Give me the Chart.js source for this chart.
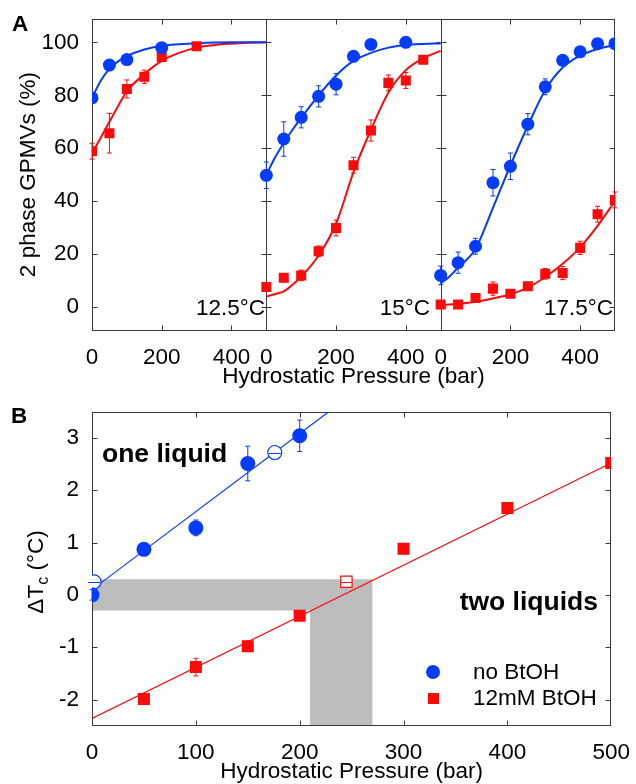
<!DOCTYPE html>
<html><head><meta charset="utf-8">
<script src="https://cdn.jsdelivr.net/npm/chart.js@4.4.0/dist/chart.umd.min.js"></script>
<style>
html,body{margin:0;padding:0;background:#fff;}
#wrap{position:relative;width:636px;height:784px;font-family:"Liberation Sans",Arial,sans-serif;color:#000;overflow:hidden;}
canvas{position:absolute;left:0;}
#cA{top:0}
#cB{top:382px}
.lbl{position:absolute;font-size:22.5px;line-height:22px;white-space:nowrap;}
.bold{font-weight:bold;}
.big{font-size:26.5px;line-height:26px;}
#ytB{position:absolute;left:-34.5px;top:559px;width:140px;height:26px;line-height:26px;font-size:22.5px;text-align:center;transform:rotate(-90deg);white-space:nowrap;}
#ytB sub{font-size:16px;vertical-align:-5px;line-height:0;}
.mk{position:absolute;}
</style></head>
<body><div id="wrap">
<canvas id="cA" width="636" height="392"></canvas>
<canvas id="cB" width="636" height="402"></canvas>
<div class="lbl bold" style="left:12px;top:13px">A</div>
<div class="lbl bold" style="left:11px;top:405px">B</div>
<div class="lbl" style="right:371px;top:297px">12.5°C</div>
<div class="lbl" style="right:206px;top:297px">15°C</div>
<div class="lbl" style="right:23px;top:297px">17.5°C</div>
<div id="ytB">ΔT<sub>c</sub> (°C)</div>
<div class="lbl bold big" style="left:102px;top:440px">one liquid</div>
<div class="lbl bold big" style="right:38px;top:588px">two liquids</div>
<div class="mk" style="left:426px;top:665px;width:14px;height:14px;border-radius:50%;background:rgb(5,60,250)"></div>
<div class="mk" style="left:428px;top:693px;width:11px;height:11px;background:rgb(250,10,10)"></div>
<div class="lbl" style="left:473px;top:661px">no BtOH</div>
<div class="lbl" style="left:473px;top:687px">12mM BtOH</div>
</div>
<script>
// ---------- Panel A data ----------
const panelTemps = ['12.5°C', '15°C', '17.5°C'];
const panelSpan = 500;
const xTicksA = [0, 200, 400];
const yTicksA = [0, 20, 40, 60, 80, 100];

// fitted-curve sample pressures (bar) and curve values
const curveP = [0, 25, 50, 75, 100, 150, 200, 250, 300, 350, 400, 450, 500];
const blueCurve125 = [79, 85.5, 90, 92.8, 94.8, 97.3, 98.7, 99.3, 99.7, 99.9, 100, 100, 100];
const redCurve125  = [58, 64, 70, 76, 81.5, 88, 93, 96, 98, 99, 99.5, 99.8, 100];
const blueCurve15  = [50, 56.5, 62, 67, 71.5, 80, 87.5, 93, 96, 98, 99, 99.4, 99.6];
const redCurve15   = [4, 5, 6, 8.5, 11.5, 19.5, 31.5, 51, 67, 81, 89.5, 94, 96.8];
const blueCurve175 = [9, 11.5, 15, 18, 22, 37.5, 53.5, 68.5, 82, 90.5, 95, 97.5, 99];
const redCurve175  = [0.7, 1, 1.3, 1.6, 2, 3.3, 4.9, 7.4, 11.4, 16.4, 22.6, 30.7, 40.1];

// measured points
const blueP125 = [0, 50, 100, 200];
const blueV125 = [79, 91.4, 93.5, 98];
const blueE125 = [0, 0, 0, 0];
const redP125 = [0, 50, 100, 150, 200, 300];
const redV125 = [58.9, 65.7, 82.4, 87, 94.5, 98.5];
const redE125 = [3, 7.5, 3.4, 2.5, 1, 0];

const blueP15 = [0, 50, 100, 150, 200, 250, 300, 400];
const blueV15 = [49.8, 63.5, 71.7, 79.6, 84.2, 94.7, 99.2, 100];
const blueE15 = [5, 6.5, 4, 4, 4, 0, 0, 0];
const redP15 = [0, 50, 100, 150, 200, 250, 300, 350, 400, 450];
const redV15 = [7.6, 11.1, 12, 21.1, 29.9, 53.6, 66.7, 84.7, 85.6, 93.4];
const redE15 = [0, 1.5, 2, 2, 3, 3, 4, 3, 3, 0];

const blueP175 = [0, 50, 100, 150, 200, 250, 300, 350, 400, 450, 500];
const blueV175 = [12, 16.8, 23, 47, 53.2, 69.1, 83.2, 93.2, 96.4, 99.5, 99.5];
const blueE175 = [3.5, 4, 3, 5, 5, 4, 3, 0, 0, 0, 0];
const redP175 = [0, 50, 100, 150, 200, 250, 300, 350, 400, 450, 500];
const redV175 = [1, 1, 3.5, 7, 5.1, 7.9, 12.6, 12.9, 22.4, 35.1, 40.5];
const redE175 = [0, 0, 0, 2.5, 0, 1.5, 2, 2.5, 2.5, 3, 3];

// ---------- Panel B data ----------
const xTicksB = [0, 100, 200, 300, 400, 500];
const yTicksB = [-2, -1, 0, 1, 2, 3];
const bluePB = [0, 50, 100, 150, 200];
const blueDT = [0, 0.87, 1.28, 2.51, 3.04];
const blueErrB = [0.1, 0, 0.15, 0.33, 0.3];
const blueOpenP = [2, 176];
const blueOpenDT = [0.25, 2.72];
const redPB = [50, 100, 150, 200, 300, 400, 500];
const redDT = [-1.99, -1.38, -0.98, -0.40, 0.88, 1.66, 2.52];
const redErrB = [0.1, 0.17, 0.1, 0.05, 0, 0, 0];
const redOpenP = [245];
const redOpenDT = [0.25];
const blueFitP = [0, 228];
const blueFitDT = [0.1, 3.5];
const redFitP = [0, 500];
const redFitDT = [-2.36, 2.52];
// shaded uncertainty region
const bandDT = [-0.3, 0.3];
const bandP = [210, 270];
const dtMin = -2.5, dtMax = 3.5;

const BLUE = 'rgb(5,60,250)';
const RED = 'rgb(250,10,10)';
const FRAME = '#3a3a3a';
const FONT = {family: "'Liberation Sans', Arial, sans-serif", size: 22.5};

const zip = (xs, ys, off = 0) => xs.map((x, i) => ({x: x + off, y: ys[i]}));

const framePlugin = {
  id: 'frame',
  beforeDatasetsDraw(chart, args, o) {
    const {ctx, chartArea: a, scales: {x, y}} = chart;
    const L = Math.round(a.left) + 0.5, R = Math.round(a.right) - 0.5;
    const T = Math.round(a.top) + 0.5, B = Math.round(a.bottom) - 0.5;
    const len = o.len || 5;
    ctx.save();
    ctx.strokeStyle = FRAME; ctx.lineWidth = 1;
    ctx.strokeRect(L, T, R - L, B - T);
    ctx.beginPath();
    const divs = (o.dividers || []).map(v => Math.round(x.getPixelForValue(v)) + 0.5);
    divs.forEach(px => { ctx.moveTo(px, T); ctx.lineTo(px, B); });
    (o.xTicks || []).forEach(v => {
      const px = Math.round(x.getPixelForValue(v)) + 0.5;
      ctx.moveTo(px, B); ctx.lineTo(px, B - len);
      ctx.moveTo(px, T); ctx.lineTo(px, T + len);
    });
    (o.yTicks || []).forEach(v => {
      const py = Math.round(y.getPixelForValue(v)) + 0.5;
      ctx.moveTo(L, py); ctx.lineTo(L + len, py);
      ctx.moveTo(R, py); ctx.lineTo(R - len, py);
      divs.forEach(px => { ctx.moveTo(px - len, py); ctx.lineTo(px + len, py); });
    });
    ctx.stroke();
    // error bars
    chart.data.datasets.forEach((ds) => {
      if (!ds.errors) return;
      ctx.strokeStyle = ds.borderColor; ctx.lineWidth = 1;
      ctx.beginPath();
      ds.data.forEach((d, i) => {
        const e = ds.errors[i];
        if (!e) return;
        const px = x.getPixelForValue(d.x);
        const y1 = y.getPixelForValue(d.y - e), y2 = y.getPixelForValue(d.y + e);
        ctx.moveTo(px, y1); ctx.lineTo(px, y2);
        ctx.moveTo(px - 2.5, y1); ctx.lineTo(px + 2.5, y1);
        ctx.moveTo(px - 2.5, y2); ctx.lineTo(px + 2.5, y2);
      });
      ctx.stroke();
    });
    ctx.restore();
  },
  afterDatasetsDraw(chart, args, o) {
    // centre bar of the open (hollow) markers
    const {ctx, scales: {x, y}} = chart;
    ctx.save();
    chart.data.datasets.forEach((ds, di) => {
      if (!ds.hollowBar) return;
      ctx.strokeStyle = ds.borderColor; ctx.lineWidth = 1;
      ctx.beginPath();
      ds.data.forEach(d => {
        const px = x.getPixelForValue(d.x), py = Math.round(y.getPixelForValue(d.y)) + 0.5;
        ctx.moveTo(px - ds.hollowBar, py); ctx.lineTo(px + ds.hollowBar, py);
      });
      ctx.stroke();
    });
    ctx.restore();
  }
};

function forceTicks(vals) { return scale => { scale.ticks = vals.map(v => ({value: v})); }; }

// ---------- Chart A ----------
const curvesA = [[blueCurve125, redCurve125], [blueCurve15, redCurve15], [blueCurve175, redCurve175]];
const ptsA = [
  [blueP125, blueV125, blueE125, redP125, redV125, redE125],
  [blueP15, blueV15, blueE15, redP15, redV15, redE15],
  [blueP175, blueV175, blueE175, redP175, redV175, redE175]
];
const dsA = [];
panelTemps.forEach((t, k) => {
  const off = k * panelSpan;
  const [bc, rc] = curvesA[k];
  const [bp, bv, be, rp, rv, re] = ptsA[k];
  dsA.push({label: 'no BtOH ' + t, data: zip(bp, bv, off), errors: be, borderColor: BLUE, backgroundColor: BLUE,
    pointStyle: 'circle', pointRadius: 6.5, pointBorderWidth: 0, showLine: false, order: 1});
  dsA.push({label: '12mM BtOH ' + t, data: zip(rp, rv, off), errors: re, borderColor: RED, backgroundColor: RED,
    pointStyle: 'rect', pointRadius: 7.1, pointBorderWidth: 0, showLine: false, order: 1});
  dsA.push({label: 'fit no BtOH ' + t, data: zip(curveP, bc, off), borderColor: BLUE, borderWidth: 2,
    pointRadius: 0, showLine: true, cubicInterpolationMode: 'monotone', order: 2});
  dsA.push({label: 'fit 12mM BtOH ' + t, data: zip(curveP, rc, off), borderColor: RED, borderWidth: 2,
    pointRadius: 0, showLine: true, cubicInterpolationMode: 'monotone', order: 2});
});
const xTicksAllA = [];
panelTemps.forEach((t, k) => xTicksAllA.push(...xTicksA.map(v => v + k * panelSpan)));
const tickLabelsA = [0, 200, 400, 0, 200, 400, 0, 200, 400];
const xLabelTicksA = [0, 200, 400, 500, 700, 900, 1000, 1200, 1400];

new Chart(document.getElementById('cA'), {
  type: 'scatter',
  data: {datasets: dsA},
  options: {
    responsive: false, animation: false, devicePixelRatio: 1,
    layout: {padding: {left: 0, top: 16, right: 21, bottom: 0}},
    plugins: {legend: {display: false}, tooltip: {enabled: false},
      frame: {xTicks: xTicksAllA.filter(v => v % panelSpan !== 0), yTicks: yTicksA, dividers: [500, 1000], len: 5}},
    scales: {
      x: {type: 'linear', min: 0, max: 1500,
        grid: {display: false}, border: {display: false},
        afterBuildTicks: forceTicks(xLabelTicksA),
        afterFit: s => { s.height = 392 - 330.7; },
        ticks: {font: FONT, color: '#000', padding: 6, maxRotation: 0, autoSkip: false,
          callback: (v, i) => String(tickLabelsA[i])},
        title: {display: true, text: 'Hydrostatic Pressure (bar)', color: '#000',
          font: {...FONT, lineHeight: 1}, padding: {top: 0, bottom: 4}}},
      y: {type: 'linear', min: -8.88, max: 109,
        grid: {display: false}, border: {display: false},
        afterBuildTicks: forceTicks(yTicksA),
        afterFit: s => { s.width = 92; },
        ticks: {font: FONT, color: '#000', padding: 5},
        title: {display: true, text: '2 phase GPMVs (%)', color: '#000',
          font: {...FONT, lineHeight: 1}, padding: {top: 17.5, bottom: 0}}}
    }
  },
  plugins: [framePlugin]
});

// ---------- Chart B ----------
const shadeP = [0, bandP[1], bandP[1], bandP[0], bandP[0], 0];
const shadeDT = [bandDT[1], bandDT[1], dtMin, dtMin, bandDT[0], bandDT[0]];
const dsB = [
  {label: 'no BtOH', data: zip(bluePB, blueDT), errors: blueErrB, borderColor: BLUE, backgroundColor: BLUE,
    pointStyle: 'circle', pointRadius: 7.5, pointBorderWidth: 0, showLine: false, order: 1},
  {label: '12mM BtOH', data: zip(redPB, redDT), errors: redErrB, borderColor: RED, backgroundColor: RED,
    pointStyle: 'rect', pointRadius: 8.5, pointBorderWidth: 0, showLine: false, order: 1},
  {label: 'no BtOH (open)', data: zip(blueOpenP, blueOpenDT), borderColor: BLUE, backgroundColor: '#fff',
    pointStyle: 'circle', pointRadius: 7, pointBorderWidth: 1.2, showLine: false, order: 1, hollowBar: 6},
  {label: '12mM BtOH (open)', data: zip(redOpenP, redOpenDT), borderColor: RED, backgroundColor: '#fff',
    pointStyle: 'rect', pointRadius: 8, pointBorderWidth: 1.2, showLine: false, order: 1, hollowBar: 5.5},
  {label: 'fit no BtOH', data: zip(blueFitP, blueFitDT), borderColor: BLUE, borderWidth: 1.2,
    pointRadius: 0, showLine: true, order: 2},
  {label: 'fit 12mM BtOH', data: zip(redFitP, redFitDT), borderColor: RED, borderWidth: 1.2,
    pointRadius: 0, showLine: true, order: 2},
  {label: 'shade', data: zip(shadeP, shadeDT), borderWidth: 0, borderColor: 'rgba(0,0,0,0)',
    backgroundColor: '#bdbdbd', fill: 'shape', pointRadius: 0, showLine: true, order: 3}
];

new Chart(document.getElementById('cB'), {
  type: 'scatter',
  data: {datasets: dsB},
  options: {
    responsive: false, animation: false, devicePixelRatio: 1,
    layout: {padding: {left: 0, top: 29.7, right: 21, bottom: 0}},
    plugins: {legend: {display: false}, tooltip: {enabled: false},
      filler: {drawTime: 'beforeDatasetsDraw'},
      frame: {xTicks: xTicksB.slice(1, -1), yTicks: yTicksB, len: 5}},
    scales: {
      x: {type: 'linear', min: 0, max: 500,
        grid: {display: false}, border: {display: false},
        afterBuildTicks: forceTicks(xTicksB),
        afterFit: s => { s.height = 402 - 343.7; },
        ticks: {font: FONT, color: '#000', padding: 6, maxRotation: 0, autoSkip: false},
        title: {display: true, text: 'Hydrostatic Pressure (bar)', color: '#000',
          font: {...FONT, lineHeight: 1}, padding: {top: 0, bottom: 1.3}}},
      y: {type: 'linear', min: dtMin, max: dtMax,
        grid: {display: false}, border: {display: false},
        afterBuildTicks: forceTicks(yTicksB),
        afterFit: s => { s.width = 92; },
        ticks: {font: FONT, color: '#000', padding: 5}}
    }
  },
  plugins: [framePlugin]
});
</script>
</body></html>
